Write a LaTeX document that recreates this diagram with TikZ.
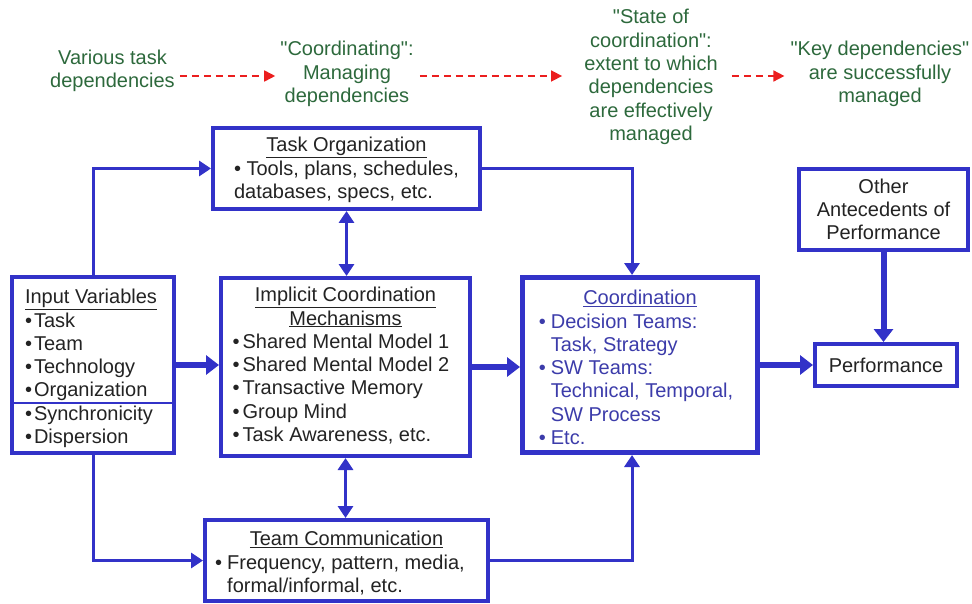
\documentclass[tikz,border=0pt]{standalone}
\usepackage{fontspec}
\setmainfont{Liberation Sans}[Ligatures=TeXOff]
\usetikzlibrary{arrows.meta}
\definecolor{frame}{RGB}{50,50,200}
\definecolor{note}{RGB}{45,105,60}
\definecolor{dep}{RGB}{235,30,30}
\definecolor{ink}{RGB}{35,35,35}
\definecolor{coordtext}{RGB}{60,60,170}
\newcommand{\bl}{\textbullet}
% lower a box's contents without changing its reported size
\newcommand{\lowerby}[2]{\raisebox{-#1}[\height][\depth]{#2}}
\begin{document}
\begin{tikzpicture}[x=1pt,y=-1pt,
  every node/.style={font=\fontsize{20}{23.3}\selectfont, inner sep=0pt},
  box/.style={draw=frame, line width=4pt, fill=white, text=ink},
  greennote/.style={text=note, align=center, inner sep=5pt},
  deparrow/.style={dep, line width=1.6pt, dash pattern=on 7pt off 5pt,
    -{Triangle[length=11pt,width=11pt]}},
  link/.style={frame, line width=3pt, -{Triangle[length=12pt,width=15pt]}},
  biglink/.style={frame, line width=6pt, -{Triangle[length=13pt,width=19pt]}},
  duallink/.style={frame, line width=3pt,
    {Triangle[length=12pt,width=15pt]}-{Triangle[length=12pt,width=15pt]}},
]
\useasboundingbox (0,0) rectangle (972,604);

% --- top row: the chain of dependency notions ---
\node[greennote] (various) at (112.5,71) {Various task\\dependencies};
\node[greennote] (managing) at (347,74) {"Coordinating":\\Managing\\dependencies};
\node[greennote] (state) at (651,77) {"State of\\coordination":\\extent to which\\dependencies\\are effectively\\managed};
\node[greennote] (keydeps) at (880,74) {"Key dependencies"\\are successfully\\managed};
\coordinate (depline) at (0,76);
\draw[deparrow] (various.east |- depline) -- (managing.west |- depline);
\draw[deparrow, shorten <=1pt, shorten >=17pt] (managing.east |- depline) -- (state.west |- depline);
\draw[deparrow, shorten <=9pt, shorten >=1pt] (state.east |- depline) -- (keydeps.west |- depline);

% --- boxes ---
\node[box, minimum width=267pt, minimum height=81pt] (taskorg) at (346.5,168.5)
  {\lowerby{2pt}{\begin{tabular}{@{}l@{}}
   \multicolumn{1}{@{}c@{}}{\underline{Task Organization}}\\
   \bl\ Tools, plans, schedules,\\
   databases, specs, etc.
   \end{tabular}}};

\node[box, minimum width=162pt, minimum height=176pt] (inputs) at (93,365)
  {\lowerby{4pt}{\begin{tabular}{@{}l@{\hspace{2pt}}l@{}}
   \multicolumn{2}{@{}c@{}}{\underline{Input Variables}}\\
   \bl&Task\\ \bl&Team\\ \bl&Technology\\ \bl&Organization\\
   \bl&Synchronicity\\ \bl&Dispersion
   \end{tabular}}\hspace*{4pt}};
\coordinate (divider) at (0,403);
\draw[frame, line width=1.8pt] (inputs.west |- divider) -- (inputs.east |- divider);

\node[box, minimum width=249pt, minimum height=178pt] (implicit) at (345.5,367)
  {\begin{tabular}{@{}l@{\hspace{3pt}}l@{}}
   \multicolumn{2}{@{}c@{}}{\hspace*{9pt}\underline{Implicit Coordination}}\\
   \multicolumn{2}{@{}c@{}}{\hspace*{9pt}\underline{Mechanisms}}\\
   \bl&Shared Mental Model 1\\ \bl&Shared Mental Model 2\\
   \bl&Transactive Memory\\ \bl&Group Mind\\ \bl&Task Awareness, etc.
   \end{tabular}\hspace*{9pt}};

\node[box, line width=5pt, text=coordtext, minimum width=235pt, minimum height=175pt] (coord) at (640,365)
  {\lowerby{5pt}{\begin{tabular}{@{}l@{\hspace{5pt}}l@{}}
   \multicolumn{2}{@{}c@{}}{\hspace*{8pt}\underline{Coordination}}\\
   \bl&Decision Teams:\\ &Task, Strategy\\
   \bl&SW Teams:\\ &Technical, Temporal,\\ &SW Process\\
   \bl&Etc.
   \end{tabular}}\hspace*{8pt}};

\node[box, minimum width=283pt, minimum height=81pt] (teamcomm) at (346.5,560.5)
  {\lowerby{4pt}{\begin{tabular}{@{}l@{\hspace{5pt}}l@{}}
   \multicolumn{2}{@{}c@{}}{\hspace*{13pt}\underline{Team Communication}}\\
   \bl&Frequency, pattern, media,\\
   &formal/informal, etc.
   \end{tabular}}\hspace*{13pt}};

\node[box, align=center, minimum width=169pt, minimum height=81pt] (other) at (883.5,209.5)
  {Other\\Antecedents of\\Performance};

\node[box, minimum width=142pt, minimum height=42pt] (perf) at (886,365) {Performance};

% --- connectors ---
\draw[link] (inputs.north) |- (taskorg.west);
\draw[link] (inputs.south) |- (teamcomm.west);
\draw[biglink] (inputs.east) -- (inputs.east -| implicit.west);
\draw[duallink] (taskorg.south) -- (taskorg.south |- implicit.north);
\draw[duallink] (implicit.south) -- (implicit.south |- teamcomm.north);
\draw[link] (taskorg.east) -| ([xshift=-8pt]coord.north);
\draw[link] (teamcomm.east) -| ([xshift=-8pt]coord.south);
\draw[biglink] (implicit.east) -- (implicit.east -| coord.west);
\draw[biglink] (coord.east) -- (coord.east -| perf.west);
\draw[biglink] (other.south) -- (other.south |- perf.north);
\end{tikzpicture}
\end{document}
